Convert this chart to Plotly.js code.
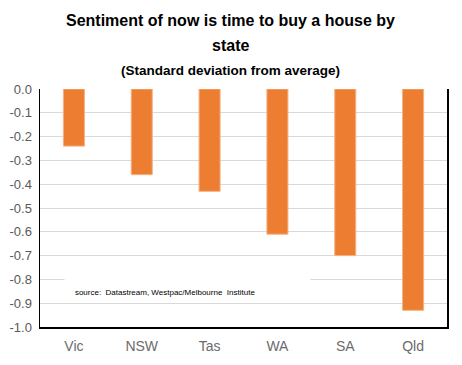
<!DOCTYPE html>
<html><head><meta charset="utf-8">
<script src="https://cdn.plot.ly/plotly-3.0.1.min.js"></script>
<style>html,body{margin:0;padding:0;background:#fff}#c{width:462px;height:365px}</style>
</head><body><div id="c"></div>
<script>
var states = ["Vic", "NSW", "Tas", "WA", "SA", "Qld"];
var sentiment = [-0.24, -0.36, -0.43, -0.61, -0.70, -0.93];
var yTicks = [0, -0.1, -0.2, -0.3, -0.4, -0.5, -0.6, -0.7, -0.8, -0.9, -1.0];
var yTickText = ["0.0", "-0.1", "-0.2", "-0.3", "-0.4", "-0.5", "-0.6", "-0.7", "-0.8", "-0.9", "-1.0"];

var SANS = '"Liberation Sans", Arial, sans-serif';
var trace = {
  type: 'bar', x: states, y: sentiment,
  marker: {color: '#ED7D31', line: {color: '#F4B183', width: 1}},
  width: 0.31, hoverinfo: 'none'
};
function titleLine(txt, ypx, size) {
  return {text: '<b>' + txt + '</b>', xref: 'paper', yref: 'paper', x: 0.468, y: (327 - ypx) / 238,
    xanchor: 'center', yanchor: 'middle', showarrow: false,
    font: {family: SANS, size: size, color: '#000'}};
}
var layout = {
  width: 462, height: 365,
  margin: {l: 40, r: 15, t: 89, b: 38},
  paper_bgcolor: '#fff', plot_bgcolor: '#fff',
  showlegend: false,
  xaxis: {
    showline: true, linecolor: '#000', linewidth: 1.5,
    ticks: '', showgrid: false, ticklabelstandoff: 6,
    tickfont: {family: SANS, size: 14, color: '#6b6b6b'},
    automargin: false
  },
  yaxis: {
    range: [-1, 0], tickvals: yTicks, ticktext: yTickText,
    showline: true, linecolor: '#000', linewidth: 1.5, mirror: true,
    showgrid: true, gridcolor: '#d9d9d9', gridwidth: 1,
    zeroline: false, ticks: '', ticklabelstandoff: 4,
    tickfont: {family: SANS, size: 13, color: '#595959'},
    automargin: false
  },
  annotations: [
    titleLine('Sentiment of now is time to buy a house by', 21, 16),
    titleLine('state', 45, 16),
    titleLine('(Standard deviation from average)', 70, 13.5),
    {
      text: '&nbsp;&nbsp;&nbsp;&nbsp;source:  Datastream, Westpac/Melbourne  Institute',
      xref: 'paper', yref: 'y', x: 0.059, y: -0.834,
      xanchor: 'left', yanchor: 'middle',
      width: 243, height: 20, align: 'left', valign: 'bottom',
      bgcolor: '#fff', borderpad: 1, showarrow: false,
      font: {family: SANS, size: 8, color: '#000'}
    }
  ]
};
Plotly.newPlot('c', [trace], layout, {staticPlot: true, displayModeBar: false});
</script></body></html>
